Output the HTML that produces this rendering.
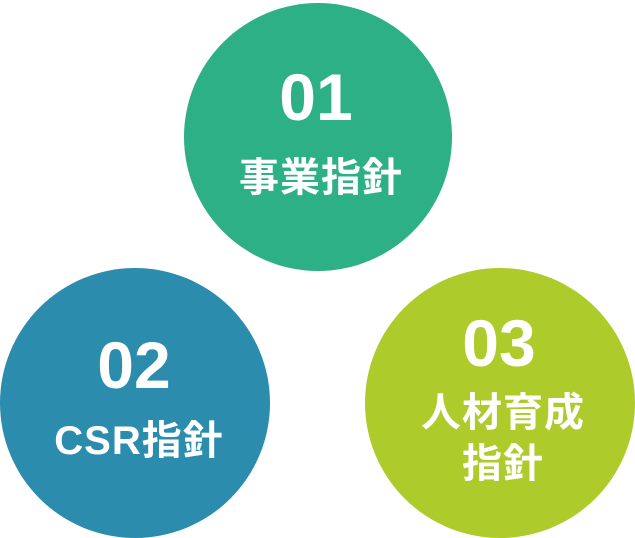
<!DOCTYPE html>
<html><head><meta charset="utf-8"><style>
html,body{margin:0;padding:0;background:#fff;}
body{width:635px;height:537px;position:relative;overflow:hidden;font-family:"Liberation Sans","Noto Sans CJK JP",sans-serif;}
.c{position:absolute;border-radius:50%;}
.t{position:absolute;color:#fff;font-weight:bold;text-align:center;white-space:nowrap;transform:translate(-50%,-50%);line-height:1;}
.n{font-size:66px;}
.j{font-size:40px;letter-spacing:1px;}
</style></head><body>
<div class="c" style="left:184px;top:3px;width:268px;height:268px;background:#2eb087;"></div>
<div class="c" style="left:0;top:268px;width:270px;height:270px;background:#2b8cae;"></div>
<div class="c" style="left:365px;top:268px;width:270px;height:270px;background:#aecb2c;"></div>
<div class="t n" style="left:316px;top:97px;">01</div>
<div class="t j" style="left:321px;top:178px;">事業指針</div>
<div class="t n" style="left:134px;top:365px;">02</div>
<div class="t j" style="left:139px;top:441px;">CSR指針</div>
<div class="t n" style="left:499px;top:343px;">03</div>
<div class="t j" style="left:503px;top:413px;">人材育成</div>
<div class="t j" style="left:503px;top:464px;">指針</div>
</body></html>
